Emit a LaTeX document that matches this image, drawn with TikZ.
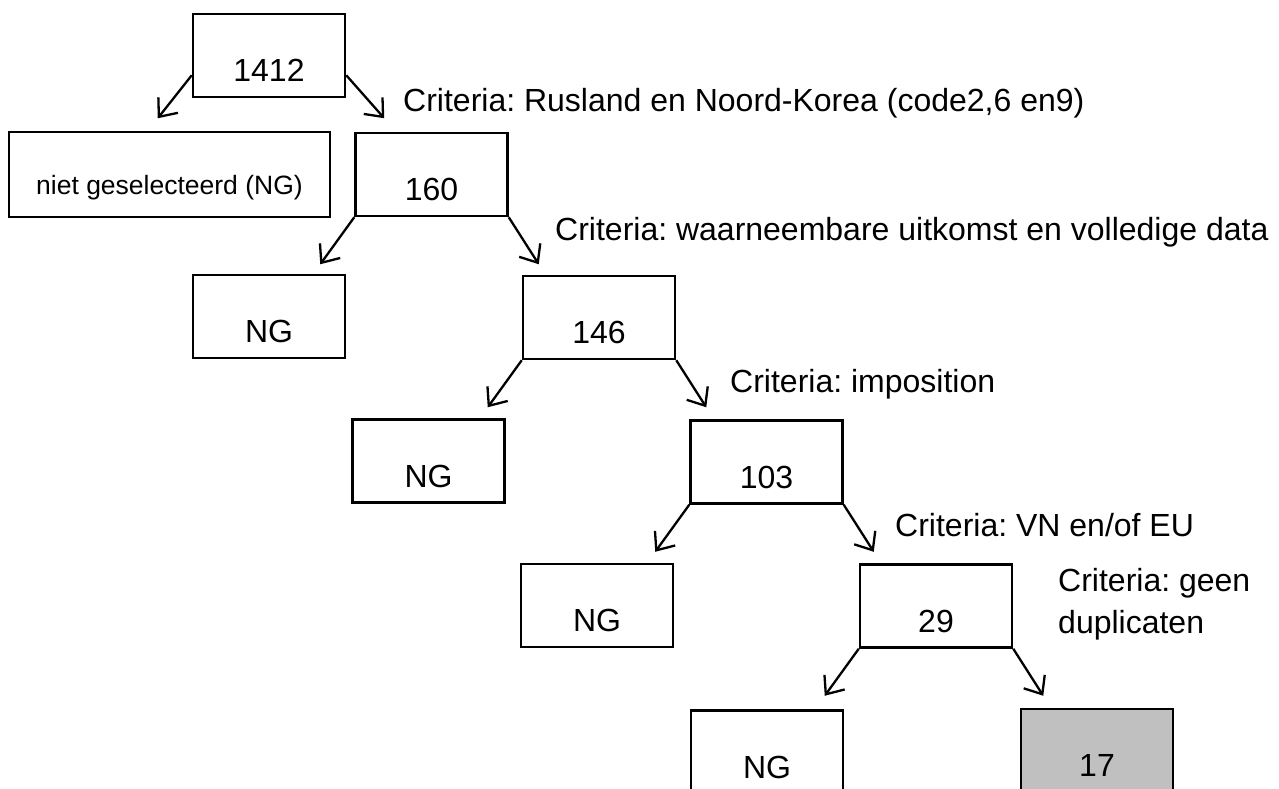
\documentclass[tikz,border=0pt]{standalone}
\usepackage{fontspec}
\setmainfont{Liberation Sans}
\usetikzlibrary{calc,arrows.meta}
\frenchspacing

\definecolor{keepgray}{RGB}{192,192,192}

\tikzset{
  box/.style={draw, line width=2.5pt, minimum width=152pt, minimum height=83pt,
    inner sep=0pt, text height=52pt, text depth=0pt},
  arr/.style={line width=2.3pt, -{Straight Barb[length=15pt,width=25pt]}},
  crit/.style={anchor=base west, inner sep=0pt, align=left}
}

\begin{document}
\begin{tikzpicture}[x=1pt, y=-1pt, font=\fontsize{32}{42}\selectfont]

% Page frame
\useasboundingbox (0,0) rectangle (1279,789);

% Start box
\node[box] (b1412) at (269,55.5) {1412};

% Level 1
\node[box, minimum width=321pt, minimum height=85pt, text height=39pt,
  font=\fontsize{26.5}{32}\selectfont] (ngsel) at (169.5,174.5) {niet geselecteerd (NG)};
\node[box] (b160) at (431.5,174.5) {160};

% Level 2
\node[box] (ng2) at (269,316.5) {NG};
\node[box] (b146) at (599,317.5) {146};

% Level 3
\node[box] (ng3) at (428.5,461) {NG};
\node[box] (b103) at (766.5,462) {103};

% Level 4
\node[box] (ng4) at (597,605.5) {NG};
\node[box] (b29) at (936,606) {29};

% Level 5 (runs off the page)
\node[box] (ng5) at (767,752) {NG};
\node[box, fill=keepgray] (b17) at (1097,750.5) {17};

% Arrows from the start box
\draw[arr] ($(b1412.south west)+(0,-23)$) -- ++(-34,43);
\draw[arr] ($(b1412.south east)+(0,-23)$) -- ++(38,43);

% Arrows from the other boxes
\foreach \p in {b160,b146,b103,b29}{
  \draw[arr] (\p.south west) -- ++(-34,47);
  \draw[arr] (\p.south east) -- ++(30,47);
}

% Criteria
\node[crit] (crit1) at (403,112) {Criteria: Rusland en Noord-Korea (code2,6 en9)};
\node[crit] (crit2) at (555,240) {Criteria: waarneembare uitkomst en volledige data};
\node[crit] (crit3) at (730,392) {Criteria: imposition};
\node[crit] (crit4) at (895,536) {Criteria: VN en/of EU};
\node[crit] (crit5) at (1058,633) {Criteria: geen\\duplicaten};

\end{tikzpicture}
\end{document}
